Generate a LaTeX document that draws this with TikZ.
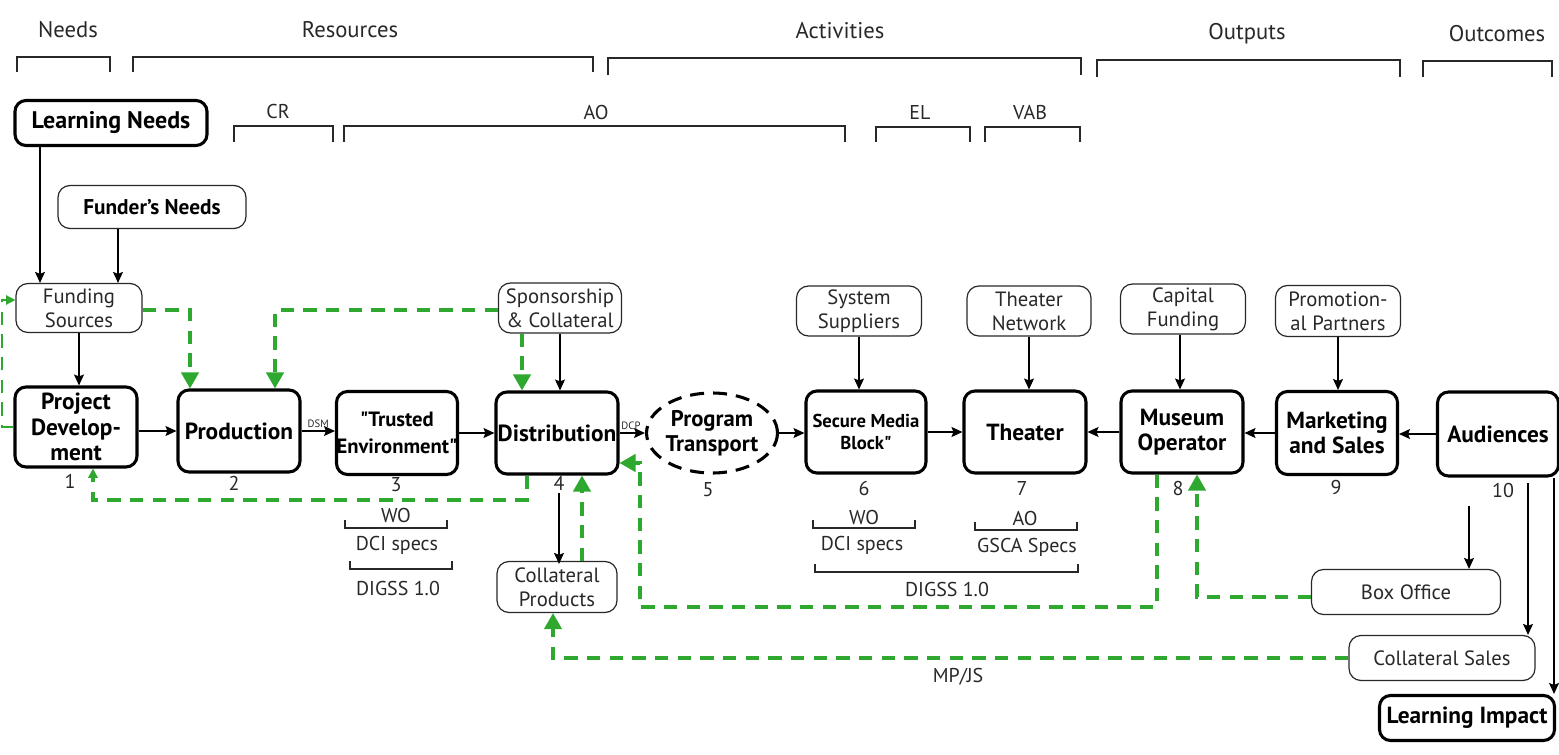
\documentclass[tikz,border=0pt]{standalone}
\usepackage{fontspec}
\setmainfont{PT Sans}
\usetikzlibrary{arrows.meta,shapes.geometric}
\def\px{*0.75pt}
\definecolor{gr}{RGB}{46,168,46}
\definecolor{tx}{RGB}{40,40,40}
\begin{document}
\begin{tikzpicture}[x=0.75pt,y=-0.75pt,
  mainbox/.style={draw, line width=2.3pt, rounded corners=8.25pt, align=center,
    inner sep=0pt, minimum width=122\px, minimum height=82\px,
    font=\bfseries\fontsize{17.5}{19}\selectfont},
  subbox/.style={draw=tx, line width=0.9pt, rounded corners=9pt, align=center,
    inner sep=0pt, minimum width=125\px, minimum height=50\px, text=tx,
    font=\fontsize{15.5}{18}\selectfont},
  lbl/.style={inner sep=0pt, text=tx, font=\fontsize{15}{18}\selectfont},
  hdr/.style={inner sep=0pt, text=tx, font=\fontsize{17}{18}\selectfont},
  small/.style={inner sep=0pt, text=tx, font=\fontsize{8}{9}\selectfont},
  arr/.style={line width=0.9pt, -{Stealth[length=8.25pt,width=7.5pt,inset=1.5pt]}},
  grn/.style={draw=gr, line width=2.4pt, dash pattern=on 10pt off 7pt,
    -{Triangle[length=12pt,width=13pt]}},
  grnsm/.style={-{Triangle[length=7pt,width=7pt]}},
  brk/.style={line width=0.9pt, draw=tx}
]
\useasboundingbox (0,0) rectangle (1559,755);

% header labels
\node[hdr] (hNeeds) at (68,30) {Needs};
\node[hdr] (hRes) at (350,30) {Resources};
\node[hdr] (hAct) at (840,31) {Activities};
\node[hdr] (hOut) at (1247,34) {Outputs};
\node[hdr] (hOutc) at (1497,34) {Outcomes};
\draw[brk] (17,72) -- (17,57) -- (110,57) -- (110,72);
\draw[brk] (133,72) -- (133,57) -- (593,57) -- (593,72);
\draw[brk] (608,75) -- (608,58) -- (1081,58) -- (1081,75);
\draw[brk] (1097,77) -- (1097,60) -- (1400,60) -- (1400,77);
\draw[brk] (1423,77) -- (1423,61) -- (1552,61) -- (1552,77);
\node[lbl] (hCR) at (278,112) {CR};
\node[lbl] (hAO) at (596,113) {AO};
\node[lbl] (hEL) at (920,113) {EL};
\node[lbl] (hVAB) at (1030,113) {VAB};
\draw[brk] (234,142) -- (234,126) -- (333,126) -- (333,142);
\draw[brk] (344,142) -- (344,126) -- (845,126) -- (845,142);
\draw[brk] (876,142) -- (876,127) -- (970,127) -- (970,142);
\draw[brk] (985,142) -- (985,127) -- (1080,127) -- (1080,142);

% needs
\node[mainbox, minimum width=192\px, minimum height=45\px, font=\bfseries\fontsize{18}{20}\selectfont] (LN) at (111,123) {Learning Needs};
\node[subbox, minimum width=188\px, minimum height=43\px, font=\bfseries\fontsize{16}{18}\selectfont, text=black] (FN) at (152,207) {Funder's Needs};
\node[subbox, minimum width=126\px, minimum height=49\px] (FS) at (79,308) {Funding\\Sources};

% main row
\node[mainbox, minimum height=80\px] (PD) at (76,427) {Project\\Develop-\\ment};
\node[mainbox] (PR) at (239,431) {Production};
\node[mainbox, minimum width=118\px, minimum height=83\px, font=\bfseries\fontsize{15.5}{20}\selectfont] (TE) at (397,433) {\textquotedbl Trusted\\Environment\textquotedbl};
\node[mainbox] (DI) at (557,433) {Distribution};
\node[draw, ellipse, line width=2.3pt, dash pattern=on 10.5pt off 6.75pt, minimum width=116\px, minimum height=80\px, inner sep=0pt, align=center, font=\bfseries\fontsize{17}{19}\selectfont] (PT) at (712,433) {Program\\Transport};
\node[mainbox, minimum width=120\px, font=\bfseries\fontsize{14}{17}\selectfont] (SMB) at (866,432) {Secure Media\\Block\textquotedbl};
\node[mainbox] (TH) at (1025,432) {Theater};
\node[mainbox] (MO) at (1182,432) {Museum\\Operator};
\node[mainbox, minimum width=121\px, minimum height=83\px] (MS) at (1337,433) {Marketing\\and Sales};
\node[mainbox, minimum width=121\px, minimum height=84\px] (AU) at (1498,434) {Audiences};

% numbers
\node[lbl] (n1) at (70,481) {1};
\node[lbl] (n2) at (234,483) {2};
\node[lbl] (n3) at (396,485) {3};
\node[lbl] (n4) at (559,483) {4};
\node[lbl] (n5) at (708,490) {5};
\node[lbl] (n6) at (864,488) {6};
\node[lbl] (n7) at (1022,488) {7};
\node[lbl] (n8) at (1178,488) {8};
\node[lbl] (n9) at (1336,487) {9};
\node[lbl] (n10) at (1503,490) {10};

% supplier row
\node[subbox, minimum width=123\px] (SC) at (560,308) {Sponsorship\\\& Collateral};
\node[subbox] (SS) at (859,311) {System\\Suppliers};
\node[subbox, minimum width=124\px] (TN) at (1029,311) {Theater\\Network};
\node[subbox] (CF) at (1183,309) {Capital\\Funding};
\node[subbox, minimum height=51\px] (PP) at (1338,311) {Promotion-\\al Partners};

% lower row
\node[subbox, minimum width=120\px, minimum height=51\px] (CP) at (557,587) {Collateral\\Products};
\node[subbox, minimum width=189\px, minimum height=45\px] (BO) at (1406,592) {Box Office};
\node[subbox, minimum width=186\px, minimum height=45\px] (CS) at (1442,658) {Collateral Sales};
\node[mainbox, minimum width=175\px, minimum height=45\px] (LI) at (1467,718) {Learning Impact};

% spec labels
\node[lbl] (wo3) at (396,515) {WO};
\draw[brk] (345,520) -- (345,528) -- (447,528) -- (447,520);
\node[lbl] (dci3) at (397,545) {DCI specs};
\draw[brk] (350,561) -- (350,569) -- (452,569) -- (452,561);
\node[lbl] (dg3) at (398,588) {DIGSS 1.0};
\node[lbl] (wo6) at (864,517) {WO};
\draw[brk] (813,520) -- (813,528) -- (915,528) -- (915,520);
\node[lbl] (dci6) at (862,545) {DCI specs};
\node[lbl] (ao7) at (1025,518) {AO};
\draw[brk] (975,522) -- (975,530) -- (1077,530) -- (1077,522);
\node[lbl] (gs7) at (1027,547) {GSCA Specs};
\draw[brk] (815,564) -- (815,572) -- (1078,572) -- (1078,564);
\node[lbl] (dg6) at (947,589) {DIGSS 1.0};
\node[lbl] (mpjs) at (958,677) {MP/JS};

% black connectors
\draw[arr] ([xshift=-71\px]LN.south) -- ([xshift=-39\px]FS.north);
\draw[arr] ([xshift=-34\px]FN.south) -- ([xshift=39\px]FS.north);
\draw[arr] (FS.south) -- (FS.south |- PD.north);
\draw[arr] (PD.east |- PR.west) -- (PR.west);
\draw[arr] (PR.east) -- (PR.east -| TE.west) node[small, pos=0.5, above=2.25pt] (dsm) {DSM};
\draw[arr] (TE.east) -- (TE.east -| DI.west);
\draw[arr] (DI.east) -- (PT.west) node[small, pos=0.45, above=2.25pt] (dcp) {DCP};
\draw[arr] (PT.east) -- (PT.east -| SMB.west);
\draw[arr] (SMB.east) -- (SMB.east -| TH.west);
\draw[arr] (MO.west) -- (MO.west -| TH.east);
\draw[arr] (MS.west) -- (MS.west -| MO.east);
\draw[arr] (AU.west) -- (AU.west -| MS.east);
\draw[arr] (SC.south) -- (SC.south |- DI.north);
\draw[arr] (SS.south) -- (SS.south |- SMB.north);
\draw[arr] (TN.south) -- (TN.south |- TH.north);
\draw[arr] ([xshift=-3\px]CF.south) -- ([xshift=-3\px]CF.south |- MO.north);
\draw[arr] (PP.south) -- (PP.south |- MS.north);
\draw[arr] ([yshift=-3\px]n4.south) -- ([yshift=-3\px]n4.south |- CP.north);
\coordinate (a1) at (1469,506);
\draw[arr] (a1) -- (a1 |- BO.north);
\coordinate (a2) at (1528,483);
\draw[arr] (a2) -- (a2 |- CS.north);
\coordinate (a3) at (1554,478);
\draw[arr] (a3) -- (a3 |- LI.north);

% green dashed connectors
\draw[grn] ([yshift=-2\px]FS.east) -| ([xshift=-49\px]PR.north);
\draw[grn] ([yshift=-2\px]SC.west) -| ([xshift=36\px]PR.north);
\draw[grn] ([xshift=-38\px]SC.south) -- ([xshift=-38\px]SC.south |- DI.north);
\coordinate (g4) at (93,500);
\draw[grn, grnsm] ([xshift=-30\px]DI.south) |- (g4) -- (g4 |- PD.south);
\coordinate (g5) at (2,300);
\draw[grn, grnsm, line width=1.2pt] (PD.west) -| (g5) -- (g5 -| FS.west);
\draw[grn] ([xshift=25\px]CP.north) -- ([xshift=25\px]CP.north |- DI.south);
\coordinate (g7) at (640,607);
\draw[grn] ([xshift=-25\px]MO.south) |- (g7) |- ([yshift=-30\px]DI.east);
\draw[grn] ([yshift=-5\px]BO.west) -| ([xshift=15\px]MO.south);
\draw[grn] (CS.west) -| ([xshift=-4\px]CP.south);
\end{tikzpicture}
\end{document}
